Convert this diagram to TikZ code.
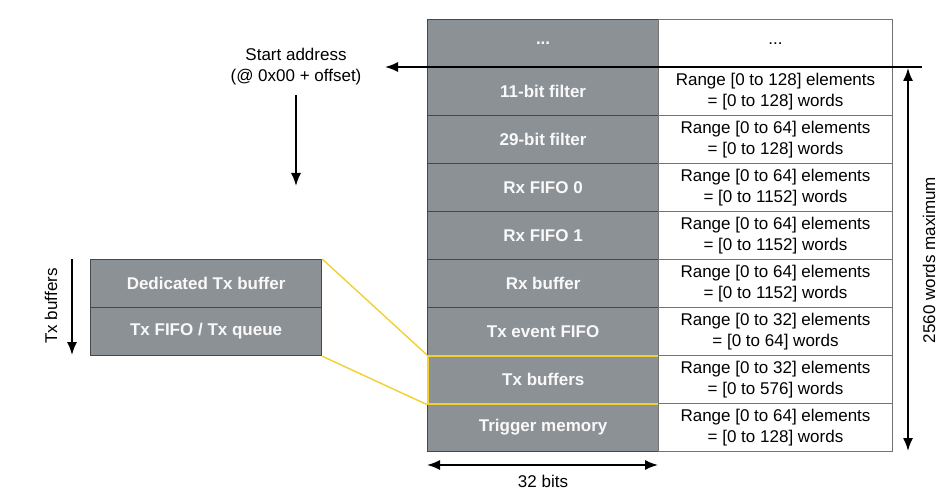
\documentclass[tikz,border=0pt]{standalone}
\usepackage{fontspec}
\setmainfont{Liberation Sans}
\usepackage{tikz}
\usetikzlibrary{arrows.meta,positioning}
\definecolor{cellgray}{RGB}{140,145,150}
\definecolor{edgegray}{RGB}{70,72,75}
\definecolor{hiyellow}{RGB}{240,208,50}
\tikzset{
  memcell/.style={ draw=edgegray, line width=1.2pt, fill=cellgray, anchor=north west,
    minimum width=231pt, minimum height=48pt, inner sep=0pt,
    font=\fontsize{17}{21}\selectfont\bfseries, text=white!95!gray }
}
\tikzset{
  sizecell/.style={ draw=black!55, line width=1pt, fill=white, anchor=north west,
    minimum width=234pt, minimum height=48pt, inner sep=0pt, align=center }
}
\tikzset{
  bigarrow/.style={ line width=1.6pt, -{Latex[length=13pt,width=10pt]} }
}
\tikzset{
  botharrow/.style={ line width=1.6pt, {Latex[length=13pt,width=10pt]}-{Latex[length=13pt,width=10pt]} }
}
\begin{document}
\begin{tikzpicture}[x=1pt, y=-1pt, font=\fontsize{17}{21}\selectfont]
      \useasboundingbox (0,0) rectangle (946,500);
      % memory map, left column
      \node[memcell] (m0) at (427, 19) {...};
      \node[memcell] (m1) at (427, 67) {11-bit filter};
      \node[memcell] (m2) at (427,115) {29-bit filter};
      \node[memcell] (m3) at (427,163) {Rx FIFO 0};
      \node[memcell] (m4) at (427,211) {Rx FIFO 1};
      \node[memcell] (m5) at (427,259) {Rx buffer};
      \node[memcell] (m6) at (427,307) {Tx event FIFO};
      \node[memcell] (m8) at (427,403) {Trigger memory};
      \node[memcell, draw=hiyellow, line width=1.6pt] (m7) at (427,355) {Tx buffers};
      % memory map, right column
      \node[sizecell] (s0) at (658, 19) {...};
      \node[sizecell] (s1) at (658, 67) {Range [0 to 128] elements\\= [0 to 128] words};
      \node[sizecell] (s2) at (658,115) {Range [0 to 64] elements\\= [0 to 128] words};
      \node[sizecell] (s3) at (658,163) {Range [0 to 64] elements\\= [0 to 1152] words};
      \node[sizecell] (s4) at (658,211) {Range [0 to 64] elements\\= [0 to 1152] words};
      \node[sizecell] (s5) at (658,259) {Range [0 to 64] elements\\= [0 to 1152] words};
      \node[sizecell] (s6) at (658,307) {Range [0 to 32] elements\\= [0 to 64] words};
      \node[sizecell] (s7) at (658,355) {Range [0 to 32] elements\\= [0 to 576] words};
      \node[sizecell] (s8) at (658,403) {Range [0 to 64] elements\\= [0 to 128] words};
      % start address
      \node[align=center] (start) at (296,67) {Start address\\(@ 0x00 + offset)};
      \coordinate (lineend) at (922,67);
      \coordinate (starttip) at (385,67);
      \coordinate (downtip) at (296,186);
      \draw[bigarrow] (lineend) -- (starttip);
      \draw[bigarrow] (start.south) ++(0,6) -- (downtip);
      % total size
      \coordinate (maxtop) at (908,68);
      \coordinate (maxbot) at (908,451);
      \draw[botharrow] (maxbot) -- (maxtop);
      \node[rotate=90] (maxlbl) at (929,260) {2560 words maximum};
      % width
      \coordinate (wl) at (427,465);
      \coordinate (wr) at (658,465);
      \draw[botharrow] (wl) -- (wr);
      \node (bits) at (543,481) {32 bits};
      % Tx buffers detail
      \node[memcell] (ded) at (90,259) {Dedicated Tx buffer};
      \node[memcell] (txq) at (90,307) {Tx FIFO / Tx queue};
      \draw[hiyellow, line width=1.4pt] (ded.north east) -- (m7.north west);
      \draw[hiyellow, line width=1.4pt] (txq.south east) -- (m7.south west);
      \coordinate (txtop) at (72,259);
      \coordinate (txbot) at (72,355);
      \draw[bigarrow] (txtop) -- (txbot);
      \node[rotate=90] (txlbl) at (51,306) {Tx buffers};
    \end{tikzpicture}
\end{document}
